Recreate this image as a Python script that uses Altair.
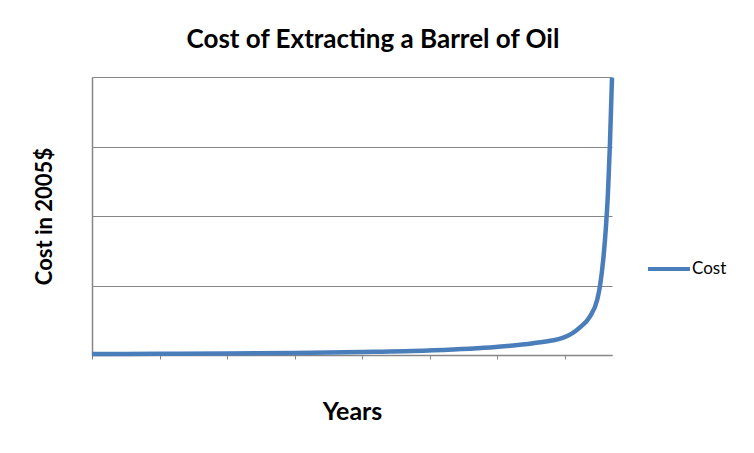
import altair as alt
import pandas as pd

years = [0, 9.9, 20, 29.9, 39.8, 49.8, 59.8, 65.3, 69.7, 72.3, 73.7, 74.8, 75.2, 75.7, 76.1, 76.4, 76.7, 77.0]
cost = [0.015, 0.017, 0.02, 0.03, 0.043, 0.065, 0.115, 0.17, 0.245, 0.40, 0.55, 0.79, 0.98, 1.37, 1.84, 2.33, 3.05, 3.99]
series = ["Cost"] * len(years)
x_ticks = [0, 10, 20, 30, 40, 50, 60, 70]
y_ticks = [0, 1, 2, 3, 4]

df = pd.DataFrame({"Years": years, "Cost": cost, "Series": series})

FONT = "Lato"
GRAY = "#868686"

chart = alt.Chart(df).mark_line(strokeWidth=4.5, color="#4A7EBB", interpolate="monotone").encode(
    x=alt.X("Years:Q",
            scale=alt.Scale(domain=[0, 77], nice=False, zero=False),
            axis=alt.Axis(values=x_ticks, labels=False, ticks=True, tickSize=4,
                          tickColor=GRAY, tickWidth=1, domainColor=GRAY, domainWidth=1.5,
                          grid=False, title="Years", titleFontSize=25, titleFont=FONT,
                          titleFontWeight="bold", titleColor="black", titlePadding=40)),
    y=alt.Y("Cost:Q",
            scale=alt.Scale(domain=[0, 4], nice=False),
            axis=alt.Axis(values=y_ticks, labels=False, ticks=False, domainColor=GRAY,
                          domainWidth=1.5, grid=True, gridColor=GRAY, gridWidth=1.2,
                          title="Cost in 2005$", titleFontSize=22, titleFont=FONT,
                          titleFontWeight="bold", titleColor="black", titlePadding=36)),
    color=alt.Color("Series:N", scale=alt.Scale(range=["#4A7EBB"]),
                    legend=alt.Legend(title=None, orient="none", legendX=554, legendY=169,
                                      symbolType="stroke", symbolSize=1764, symbolStrokeWidth=4,
                                      labelFont=FONT, labelFontSize=17, labelColor="black",
                                      labelOffset=0, padding=0)),
).properties(
    width=520,
    height=278,
    padding={"left": 84, "top": 69, "right": 134, "bottom": 90},
    autosize=alt.AutoSizeParams(type="none"),
    title=alt.TitleParams("Cost of Extracting a Barrel of Oil", font=FONT, fontSize=26,
                          fontWeight="bold", color="black", anchor="middle", dx=21, offset=16),
).configure_view(stroke=None)

chart.save("out.html", embed_options={"renderer": "svg", "actions": False})
